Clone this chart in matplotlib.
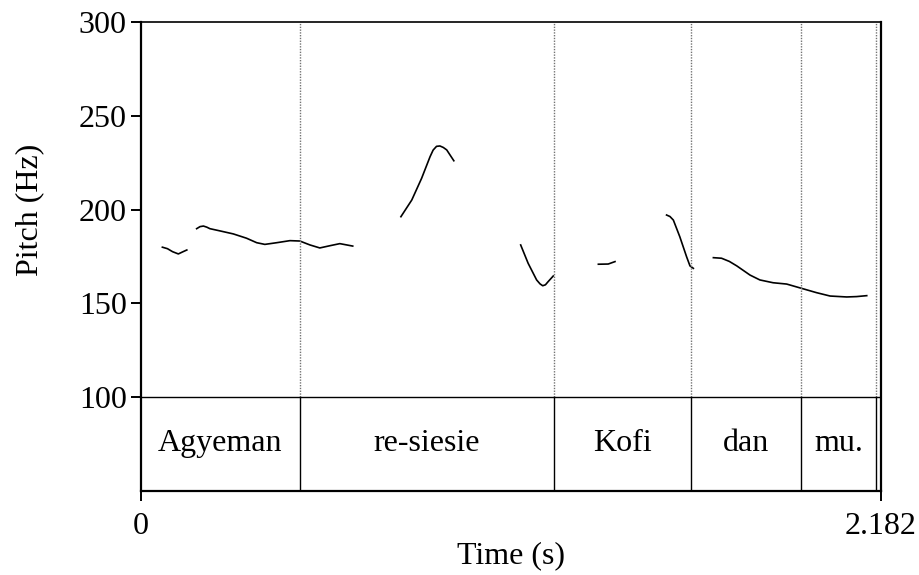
import matplotlib.pyplot as plt

plt.rcParams['font.family'] = ['Liberation Serif', 'DejaVu Serif']

# 音高曲线（每段：时间 s，频率 Hz）
seg_t = [
    [0.064, 0.079, 0.094, 0.111, 0.125, 0.136],
    [0.165, 0.175, 0.185, 0.195, 0.204, 0.234, 0.273, 0.312, 0.342, 0.366,
     0.401, 0.440, 0.469, 0.499, 0.528, 0.558, 0.587, 0.625],
    [0.767, 0.799, 0.828, 0.853, 0.862, 0.872, 0.882, 0.892, 0.902, 0.923],
    [1.120, 1.142, 1.167, 1.177, 1.185, 1.193, 1.201, 1.216],
    [1.349, 1.378, 1.398],
    [1.550, 1.560, 1.570, 1.589, 1.609, 1.619, 1.629],
    [1.688, 1.712, 1.735, 1.757, 1.796, 1.825, 1.864, 1.904, 1.948, 1.992,
     2.032, 2.081, 2.110, 2.140],
]
seg_f = [
    [179.9, 179.1, 177.5, 176.3, 177.5, 178.4],
    [189.8, 190.9, 191.2, 190.6, 189.8, 188.6, 187.0, 184.7, 182.3, 181.4,
     182.3, 183.4, 183.2, 181.1, 179.5, 180.7, 181.8, 180.5],
    [196.2, 205.1, 216.7, 228.3, 231.8, 233.8, 234.0, 233.2, 231.9, 226.1],
    [181.1, 171.3, 162.4, 160.3, 159.3, 159.8, 161.5, 164.5],
    [170.8, 170.9, 172.2],
    [197.1, 196.3, 194.4, 185.5, 174.8, 169.9, 168.6],
    [174.3, 174.0, 172.3, 169.9, 165.0, 162.4, 160.9, 160.2, 157.9, 155.6,
     153.8, 153.3, 153.5, 154.0],
]

# 标注层
boundaries = [0.4695, 1.218, 1.621, 1.947, 2.166]
words = ["Agyeman", "re-siesie", "Kofi", "dan", "mu."]
t_end = 2.182

y_tick_vals = [100, 150, 200, 250, 300]
f_min, f_max = 100, 300
tier_bottom = 49.6

fig = plt.figure(figsize=(9.2, 5.75), dpi=100)
ax = fig.add_axes([0.1529, 0.1461, 0.8047, 0.8148])
ax.set_xlim(0, t_end)
ax.set_ylim(tier_bottom, f_max)

for t, f in zip(seg_t, seg_f):
    ax.plot(t, f, color='black', lw=1.2)

# 边界线：上面虚线，标注层实线
for b in boundaries:
    ax.plot([b, b], [f_min, f_max], color='0.45', lw=1, ls=(0, (1, 1)))
    ax.plot([b, b], [tier_bottom, f_min], color='black', lw=1)
ax.axhline(f_min, color='black', lw=1)

starts = [0] + boundaries[:-1]
for s, e, w in zip(starts, boundaries, words):
    ax.text((s + e) / 2, (tier_bottom + f_min) / 2, w, ha='center', va='center',
            fontsize=23)

for sp in ax.spines.values():
    sp.set_linewidth(1.6)
ax.spines['top'].set_linewidth(1.2)

ax.set_yticks(y_tick_vals)
ax.set_yticklabels([str(v) for v in y_tick_vals])
ax.set_xticks([0, t_end])
ax.set_xticklabels(["0", "2.182"])
ax.tick_params(axis='both', direction='out', length=7, width=1.4,
               labelsize=23, pad=3)
ax.tick_params(axis='x', pad=8)

ax.set_xlabel("Time (s)", fontsize=23, labelpad=0)
ax.text(-0.15, 200, "Pitch (Hz)", rotation=90, ha='center', va='center',
        fontsize=23, transform=ax.get_yaxis_transform())

fig.savefig("out.png", dpi=100)
